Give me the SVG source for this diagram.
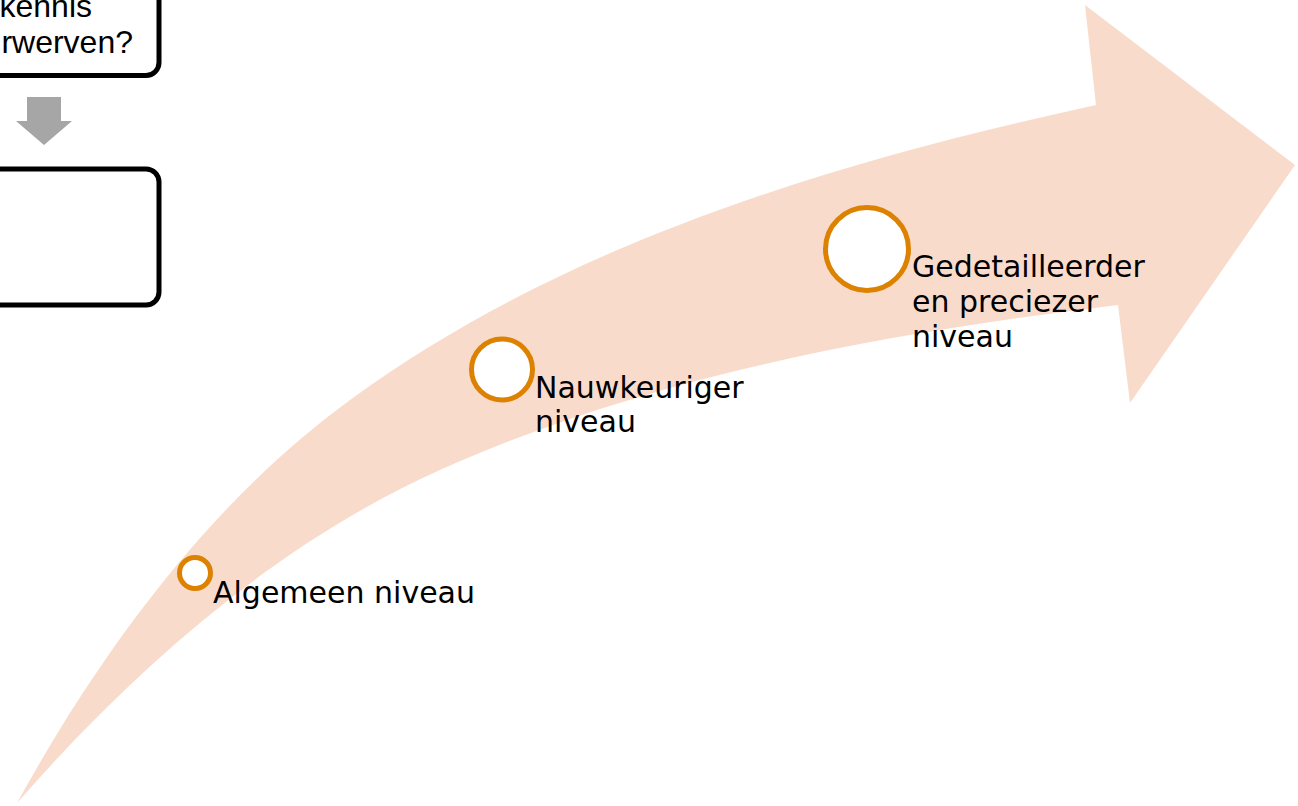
<svg xmlns="http://www.w3.org/2000/svg" width="1298" height="806" viewBox="0 0 1298 806">
<style>
.box{fill:#FFFFFF;stroke:#000000;stroke-width:5}
.lbl{font-family:"DejaVu Sans","Liberation Sans",sans-serif;font-size:30px;fill:#000000}
.boxt{font-family:"Liberation Sans","DejaVu Sans",sans-serif;font-size:32px;fill:#000000}
.dot{fill:#FFFFFF;stroke:#DC8100;stroke-width:5}
</style>
<rect width="1298" height="806" fill="#FFFFFF"/>
<g id="big-arrow">
<path d="M17,803 C101,651 209,503 350,400 C566,242 835,162 1096,105 L1085,5 L1295,165 L1130,403 L1118,305 C887,333 652,375 440,470 C277,543 135,668 17,803 Z" fill="#F9DBCC"/>
</g>
<g id="box-top">
<rect class="box" x="-200" y="-100" width="359" height="175.5" rx="13"/>
<text class="boxt" x="92" y="17" text-anchor="end">kennis</text>
<text class="boxt" x="133" y="53" text-anchor="end">rwerven?</text>
</g>
<g id="box-bottom">
<rect class="box" x="-200" y="169" width="359" height="136" rx="13"/>
</g>
<g id="connectors">
<polygon points="27,97 61,97 61,121 72,121 44,145 16,121 27,121" fill="#A6A6A6"/>
</g>
<g id="node-algemeen">
<circle class="dot" cx="195" cy="573" r="15.5"/>
<text class="lbl" x="213" y="603">Algemeen niveau</text>
</g>
<g id="node-nauwkeuriger">
<circle class="dot" cx="502" cy="369.5" r="30.5"/>
<text class="lbl" x="535" y="398">Nauwkeuriger</text>
<text class="lbl" x="535" y="432">niveau</text>
</g>
<g id="node-gedetailleerder">
<circle class="dot" cx="867" cy="249" r="41.5"/>
<text class="lbl" x="912" y="277">Gedetailleerder</text>
<text class="lbl" x="912" y="312">en preciezer</text>
<text class="lbl" x="912" y="347">niveau</text>
</g>
</svg>
